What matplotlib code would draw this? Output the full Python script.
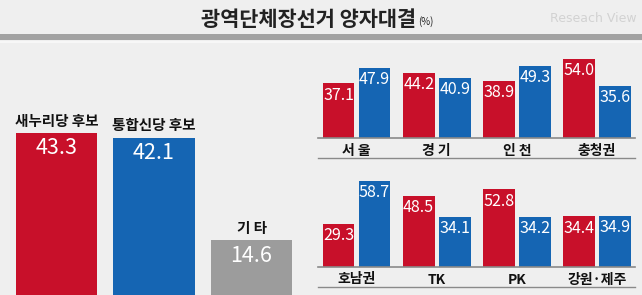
import matplotlib
matplotlib.use('Agg')
import matplotlib.pyplot as plt
import numpy as np

plt.rcParams['font.family'] = ['Noto Sans CJK KR', 'DejaVu Sans']

# 전체 결과
cand_labels = ['새누리당 후보', '통합신당 후보', '기 타']
cand_values = [43.3, 42.1, 14.6]

# 지역별 결과
regions_top = ['서 울', '경 기', '인 천', '충청권']
saenuri_top = [37.1, 44.2, 38.9, 54.0]
tonghap_top = [47.9, 40.9, 49.3, 35.6]

regions_bot = ['호남권', 'TK', 'PK', '강원·제주']
saenuri_bot = [29.3, 48.5, 52.8, 34.4]
tonghap_bot = [58.7, 34.1, 34.2, 34.9]

RED = '#c8102a'
BLUE = '#1565b3'
GRAY = '#9c9c9c'
BG = '#efefef'
NUM_FONT = ['Liberation Sans Narrow', 'Noto Sans CJK KR', 'DejaVu Sans']

W, H = 642, 295
fig = plt.figure(figsize=(W / 100, H / 100), dpi=100)
fig.patch.set_facecolor(BG)


def box(x0, y0, x1, y1):
    # pixel box (top-left origin) -> figure fraction
    return [x0 / W, 1 - y1 / H, (x1 - x0) / W, (y1 - y0) / H]


# 제목
fig.text(416 / W, 1 - 19 / H, '광역단체장선거 양자대결', ha='right', va='center',
         fontsize=15, fontweight='bold', color='#222222')
fig.text(418 / W, 1 - 22 / H, '(%)', ha='left', va='center', fontsize=7,
         color='#222222')
fig.text(0.992, 1 - 18 / H, 'Reseach View', ha='right', va='center',
         fontsize=9, color='#d2d2d2', family=['Liberation Sans Narrow', 'DejaVu Sans'])
fig.patches.append(plt.Rectangle((0, 1 - 40 / H), 1, 6.5 / H, transform=fig.transFigure,
                                 color='#a2a2a2', lw=0))
fig.patches.append(plt.Rectangle((0, 1 - 43 / H), 1, 2 / H, transform=fig.transFigure,
                                 color='#f7f7f7', lw=0))

# 왼쪽: 전체
scale = 3.74
ax = fig.add_axes(box(0, 100, 310, 295))
ax.set_facecolor('none')
x = np.arange(len(cand_values))
ax.bar(x, cand_values, width=0.84, color=[RED, BLUE, GRAY])
ax.set_xlim(-0.58, 2.6)
ax.set_ylim(0, 195 / scale)
for xi, v, lab in zip(x, cand_values, cand_labels):
    ax.annotate(lab, (xi, v), xytext=(0, 3), textcoords='offset points',
                ha='center', va='bottom', fontsize=10.5, fontweight='bold',
                color='#111111', annotation_clip=False)
    ax.annotate(f'{v:.1f}', (xi, v), xytext=(0, -3), textcoords='offset points',
                ha='center', va='top', fontsize=15.5, color='white',
                family=NUM_FONT)
ax.axis('off')


# 오른쪽: 지역별
def region_panel(rect, names, reds, blues):
    s = 1.47
    y0, y1 = rect[1], rect[3]
    ax = fig.add_axes(box(310, y0, 642, y1))
    ax.set_facecolor('none')
    base = rect[2]
    ax.set_ylim(-(y1 - base) / s, (base - y0) / s)
    ax.set_xlim(-0.58, 3.56)
    gx = np.arange(len(names))
    off, w = 0.225, 0.395
    ax.bar(gx - off, reds, width=w, color=RED)
    ax.bar(gx + off, blues, width=w, color=BLUE)
    for xi, v in zip(gx - off, reds):
        ax.annotate(f'{v:.1f}', (xi, v), xytext=(0, -2.5), textcoords='offset points',
                    ha='center', va='top', fontsize=11.5, color='white', family=NUM_FONT)
    for xi, v in zip(gx + off, blues):
        ax.annotate(f'{v:.1f}', (xi, v), xytext=(0, -2.5), textcoords='offset points',
                    ha='center', va='top', fontsize=11.5, color='white', family=NUM_FONT)
    for xi, n in zip(gx, names):
        ax.annotate(n, (xi, 0), xytext=(0, -9), textcoords='offset points',
                    ha='center', va='center', fontsize=10, fontweight='bold',
                    color='#111111', annotation_clip=False)
    lx0, lx1 = (318 - 310) / 332, (635 - 310) / 332
    ax.axhline(0, lx0, lx1, color='#8a8a8a', lw=1.2)
    ax.axhline(-20 / s, lx0, lx1, color='#8a8a8a', lw=1.0)
    ax.axis('off')


region_panel((0, 45, 138, 165), regions_top, saenuri_top, tonghap_top)
region_panel((0, 170, 267, 295), regions_bot, saenuri_bot, tonghap_bot)

fig.savefig('out.png', dpi=100, facecolor=BG)
